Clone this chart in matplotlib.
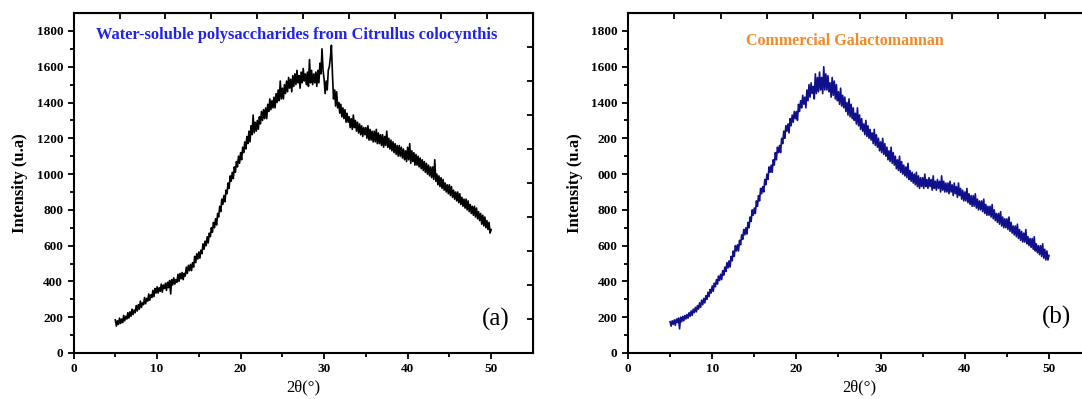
import numpy as np
import matplotlib
matplotlib.use("Agg")
import matplotlib.pyplot as plt

two_theta = np.arange(5, 50.001, 0.125)

intensity_a = [
    185, 150, 180, 160, 195, 165, 190, 170,
    210, 180, 205, 190, 225, 195, 230, 205,
    245, 215, 240, 225, 265, 235, 270, 245,
    290, 255, 280, 270, 310, 275, 305, 290,
    330, 295, 325, 310, 350, 315, 360, 335,
    370, 335, 365, 345, 385, 340, 380, 360,
    390, 350, 395, 365, 405, 330, 410, 380,
    420, 385, 410, 395, 440, 400, 445, 415,
    450, 410, 445, 430, 480, 445, 490, 460,
    495, 460, 505, 480, 540, 505, 555, 525,
    565, 530, 575, 555, 610, 580, 625, 600,
    650, 615, 670, 650, 700, 675, 730, 700,
    750, 715, 780, 760, 820, 790, 860, 830,
    880, 845, 910, 890, 950, 920, 990, 960,
    1010, 975, 1040, 1010, 1070, 1040, 1100, 1060,
    1120, 1080, 1150, 1120, 1180, 1140, 1210, 1170,
    1240, 1180, 1270, 1220, 1330, 1230, 1290, 1240,
    1300, 1250, 1320, 1280, 1350, 1300, 1360, 1310,
    1370, 1310, 1390, 1350, 1420, 1360, 1410, 1370,
    1430, 1370, 1450, 1400, 1470, 1410, 1520, 1420,
    1480, 1420, 1500, 1450, 1520, 1460, 1540, 1480,
    1530, 1460, 1550, 1490, 1560, 1500, 1580, 1510,
    1550, 1480, 1570, 1510, 1590, 1520, 1560, 1500,
    1570, 1490, 1640, 1510, 1580, 1500, 1560, 1510,
    1570, 1490, 1580, 1510, 1620, 1560, 1700, 1580,
    1530, 1450, 1520, 1470, 1580, 1600, 1650, 1720,
    1560, 1420, 1470, 1380, 1460, 1370, 1400, 1340,
    1390, 1320, 1370, 1310, 1360, 1290, 1340, 1290,
    1320, 1260, 1310, 1250, 1330, 1260, 1300, 1240,
    1290, 1230, 1280, 1220, 1270, 1210, 1260, 1220,
    1260, 1200, 1270, 1190, 1250, 1190, 1240, 1180,
    1240, 1180, 1250, 1170, 1230, 1170, 1220, 1160,
    1220, 1150, 1210, 1160, 1240, 1150, 1200, 1140,
    1190, 1130, 1180, 1120, 1170, 1110, 1160, 1100,
    1160, 1100, 1150, 1090, 1140, 1080, 1130, 1070,
    1150, 1080, 1170, 1060, 1130, 1070, 1120, 1050,
    1110, 1050, 1100, 1040, 1090, 1030, 1080, 1020,
    1070, 1010, 1060, 1000, 1050, 990, 1040, 980,
    1040, 970, 1080, 960, 1000, 940, 990, 930,
    980, 920, 970, 910, 950, 900, 940, 890,
    940, 880, 930, 870, 910, 860, 900, 850,
    900, 840, 890, 830, 870, 820, 860, 810,
    860, 800, 850, 790, 830, 780, 820, 770,
    820, 760, 810, 750, 790, 740, 780, 720,
    770, 710, 760, 700, 740, 690, 730, 670,
    690,
]

intensity_b = [
    175, 150, 180, 160, 185, 155, 190, 170,
    195, 135, 200, 175, 205, 180, 210, 190,
    215, 195, 225, 205, 235, 210, 245, 225,
    255, 230, 265, 245, 280, 255, 295, 270,
    305, 280, 320, 300, 340, 315, 355, 335,
    375, 345, 390, 370, 410, 385, 430, 405,
    440, 410, 460, 435, 480, 455, 505, 475,
    515, 480, 540, 515, 570, 540, 600, 570,
    605, 570, 630, 605, 660, 635, 690, 660,
    700, 665, 730, 700, 760, 735, 800, 770,
    810, 780, 850, 820, 880, 850, 920, 890,
    930, 900, 970, 940, 1000, 970, 1040, 1010,
    1050, 1010, 1080, 1050, 1120, 1080, 1150, 1120,
    1160, 1120, 1200, 1170, 1240, 1200, 1270, 1240,
    1280, 1230, 1310, 1270, 1330, 1290, 1350, 1310,
    1350, 1300, 1390, 1350, 1410, 1370, 1440, 1390,
    1430, 1370, 1470, 1410, 1500, 1430, 1510, 1450,
    1490, 1420, 1560, 1450, 1540, 1460, 1570, 1470,
    1540, 1450, 1600, 1470, 1560, 1470, 1550, 1460,
    1510, 1430, 1540, 1440, 1520, 1420, 1500, 1410,
    1460, 1390, 1480, 1380, 1440, 1370, 1430, 1350,
    1400, 1330, 1420, 1320, 1390, 1310, 1370, 1300,
    1340, 1280, 1370, 1270, 1330, 1250, 1310, 1240,
    1280, 1220, 1300, 1210, 1270, 1200, 1250, 1190,
    1230, 1170, 1250, 1160, 1220, 1150, 1200, 1130,
    1180, 1120, 1200, 1110, 1170, 1100, 1150, 1080,
    1130, 1070, 1150, 1060, 1120, 1050, 1100, 1030,
    1080, 1020, 1100, 1010, 1070, 1000, 1050, 990,
    1040, 980, 1060, 970, 1020, 960, 1010, 950,
    1000, 940, 1010, 930, 990, 920, 980, 930,
    980, 920, 1000, 930, 970, 920, 980, 930,
    970, 910, 990, 920, 960, 910, 970, 920,
    960, 900, 990, 910, 960, 900, 950, 900,
    950, 890, 960, 900, 940, 880, 950, 890,
    930, 870, 950, 880, 920, 860, 910, 850,
    900, 850, 920, 840, 890, 830, 880, 820,
    880, 820, 890, 810, 860, 800, 850, 800,
    850, 790, 860, 780, 830, 770, 820, 770,
    820, 760, 830, 750, 800, 740, 780, 730,
    780, 720, 790, 710, 760, 700, 750, 700,
    750, 690, 760, 680, 730, 670, 710, 660,
    710, 650, 720, 640, 690, 630, 680, 620,
    670, 620, 690, 610, 650, 600, 640, 590,
    640, 580, 650, 570, 610, 560, 600, 550,
    600, 540, 610, 530, 580, 520, 570, 520,
    545,
]

yticks = [0, 200, 400, 600, 800, 1000, 1200, 1400, 1600, 1800]
ylabels_a = ["0", "200", "400", "600", "800", "1000", "1200", "1400", "1600", "1800"]
ylabels_b = ["0", "200", "400", "600", "800", "000", "200", "1400", "1600", "1800"]
xticks = [0, 10, 20, 30, 40, 50]

serif = "Liberation Serif"

fig = plt.figure(figsize=(10.82, 3.99), dpi=100)
ax_a = fig.add_axes([0.068, 0.1153, 0.4245, 0.852])
ax_b = fig.add_axes([0.5804, 0.1153, 0.428, 0.852])


def style(ax, ylabels):
    ax.set_xlim(0, 55)
    ax.set_ylim(0, 1900)
    ax.set_xticks(xticks)
    ax.set_xticks(np.arange(5, 55, 10), minor=True)
    ax.set_yticks(yticks)
    ax.set_yticks(np.arange(100, 1900, 200), minor=True)
    ax.set_xticklabels([str(t) for t in xticks])
    ax.set_yticklabels(ylabels)
    ax.tick_params(which="both", direction="out", top=False, right=False,
                   width=1.3, labelsize=9.5)
    ax.tick_params(which="major", length=4)
    ax.tick_params(which="minor", length=3)
    for lab in ax.get_xticklabels() + ax.get_yticklabels():
        lab.set_family(serif)
        lab.set_fontweight("bold")
    for s in ax.spines.values():
        s.set_linewidth(1.5)
    ax.set_xlabel("2θ(°)", family=serif, fontsize=12, labelpad=3)
    ax.set_ylabel("Intensity (u.a)", family=serif, fontsize=12,
                  fontweight="bold", labelpad=6)
    top = ax.secondary_xaxis("top")
    top.set_xticks(np.arange(5.5, 55, 5.5))
    top.tick_params(direction="in", length=4, width=1.3, labeltop=False)
    right = ax.secondary_yaxis("right")
    right.set_yticks(np.arange(190, 1900, 190))
    right.tick_params(direction="in", length=4, width=1.3, labelright=False)


ax_a.plot(two_theta, intensity_a, color="black", lw=1.2)
style(ax_a, ylabels_a)
ax_a.text(26.7, 1775, "Water-soluble polysaccharides from Citrullus colocynthis",
          family=serif, fontweight="bold", fontsize=11.8, color="#2222ee",
          ha="center", va="center")
ax_a.text(50.6, 190, "(a)", family=serif, fontsize=18, ha="center", va="center")

ax_b.plot(two_theta, intensity_b, color="#10108a", lw=1.2)
style(ax_b, ylabels_b)
ax_b.text(25.8, 1745, "Commercial Galactomannan", family=serif,
          fontweight="bold", fontsize=11.5, color="#f28a2a",
          ha="center", va="center")
ax_b.text(50.9, 200, "(b)", family=serif, fontsize=18, ha="center", va="center")

fig.savefig("out.png", dpi=100)
